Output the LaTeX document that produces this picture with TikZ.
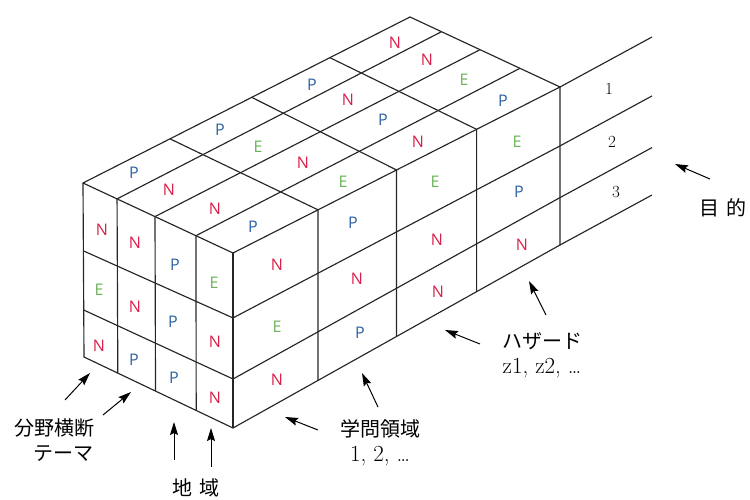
\documentclass[tikz,border=0pt]{standalone}
\usepackage{fontspec}
\usepackage{tikz}
\usetikzlibrary{calc,
                arrows.meta}
\newfontfamily\jafont{Noto Sans CJK JP}
\newfontfamily\cellfont{Open Sans}
\definecolor{cellred}{HTML}{D91E48}
\definecolor{cellblue}{HTML}{2D62A0}
\definecolor{cellgreen}{HTML}{6AB35A}
\newcommand{\jalabel}{\jafont\fontsize{20}{25}\selectfont}

\begin{document}
\begin{tikzpicture}[x=1pt,y=-1pt]

\tikzset{
gridline/.style={
draw=black!85,
line width=1.15pt,
line join=round
},
pointer/.style={
draw=black,
line width=1pt,
-{Stealth[length=13pt,width=8pt,inset=2pt]}
},
cellN/.style={text=cellred,font=\cellfont\fontsize{16}{16}\selectfont},
cellP/.style={text=cellblue,font=\cellfont\fontsize{16}{16}\selectfont},
cellE/.style={text=cellgreen,font=\cellfont\fontsize{16}{16}\selectfont},
rownum/.style={font=\fontsize{17}{17}\selectfont},
axislabel/.style={
align=center,
font=\fontsize{23}{25}\selectfont
}
}

\useasboundingbox (0,0) rectangle (750,500);

%--------------------------------------------------
% BOX CORNERS
%--------------------------------------------------

\coordinate (A) at (83,183);
\coordinate (B) at (233,253);
\coordinate (C) at (560,87);
\coordinate (D) at (410,17);
\coordinate (Ab) at (84,357);
\coordinate (Bb) at (233,428);
\coordinate (Cb) at (560,245);

%--------------------------------------------------
% GRID
%--------------------------------------------------

% outline and purpose lines
\draw[gridline] (A) -- (B) -- (C) -- (D) -- cycle;
\draw[gridline] (A) -- (Ab) -- (Bb) -- (Cb) -- (C);
\draw[gridline] (B) -- (Bb);
\draw[gridline] (C) -- ++(92,-50);
\draw[gridline] (Cb) -- ++(92,-50);

% rows round the two side faces
\foreach \fa/\fb/\fc in {0.39/0.371/0.373,0.73/0.72/0.70}
  \draw[gridline] ($(A)!\fa!(Ab)$) -- ($(B)!\fb!(Bb)$) -- ($(C)!\fc!(Cb)$) -- ++(92,-50);

% themes x regions
\foreach \f/\g in {0.227/0.21,0.48/0.467,0.753/0.733}{
  \draw[gridline] ($(Ab)!\f!(Bb)$) -- ($(A)!\f!(B)$) -- ($(D)!\g!(C)$);
}

% disciplines
\foreach \f/\g in {0.266/0.26,0.516/0.5,0.755/0.745}{
  \draw[gridline] ($(A)!\f!(D)$) -- ($(B)!\g!(C)$) -- ($(Bb)!\g!(Cb)$);
}

%--------------------------------------------------
% CELL LETTERS
%--------------------------------------------------

% top face
\foreach \x/\y/\t [count=\n] in {134/173/P,220/130/P,312/85/P,395/43/N,
                                 169/190/N,258/147/E,348/100/N,427/60/N,
                                 215/209/N,303/163/N,383/120/P,464/80/E,
                                 253/227/P,343/182/E,418/142/N,503/101/P}
  \node[cell\t] (top\n) at (\x,\y) {\t};

% front face
\foreach \x/\y/\t [count=\n] in {102/230/N,135/243/N,175/265/P,214/283/E,
                                 99/290/E,135/307/N,173/322/P,215/342/N,
                                 99/346/N,134/360/P,174/378/P,215/398/N}
  \node[cell\t] (front\n) at (\x,\y) {\t};

% side face
\foreach \x/\y/\t [count=\n] in {277/265/N,353/223/P,435/182/E,517/142/E,
                                 277/327/E,357/279/N,437/240/N,519/192/P,
                                 277/380/N,360/333/P,438/292/N,522/245/N}
  \node[cell\t] (side\n) at (\x,\y) {\t};

% purposes
\node[rownum] (num1) at (609,89) {1};
\node[rownum] (num2) at (612,142) {2};
\node[rownum] (num3) at (616,192) {3};

%--------------------------------------------------
% LABELS
%--------------------------------------------------

\node[axislabel] (mokuteki) at (723,208) {\jalabel 目\hspace{.35em}的};
\node[axislabel] (hazard) at (542,355) {{\jalabel ハザード}\\z1, z2, \ldots};
\node[axislabel] (gakumon) at (380,443) {{\jalabel 学問領域}\\1, 2, \ldots};
\node[axislabel] (chiiki) at (196,488) {\jalabel 地\hspace{.35em}域};
\node[axislabel,align=right] (bunya) at (54,440) {\jalabel 分野横断\\\jalabel テーマ};

%--------------------------------------------------
% POINTERS
%--------------------------------------------------

\coordinate (mk1) at (710,179);  \coordinate (mk1e) at (675,164);
\coordinate (hz1) at (480,344);  \coordinate (hz1e) at (445,330);
\coordinate (hz2) at (546,315);  \coordinate (hz2e) at (529,281);
\coordinate (gk1) at (318,430);  \coordinate (gk1e) at (285,417);
\coordinate (gk2) at (378,407);  \coordinate (gk2e) at (362,373);
\coordinate (ch1) at (174,460);  \coordinate (ch1e) at (174,422);
\coordinate (ch2) at (211,467);  \coordinate (ch2e) at (211,428);
\coordinate (bu1) at (65,400);   \coordinate (bu1e) at (90,373);
\coordinate (bu2) at (103,415);  \coordinate (bu2e) at (131,392);

\foreach \p in {mk1,hz1,hz2,gk1,gk2,ch1,ch2,bu1,bu2}
  \draw[pointer] (\p) -- (\p e);

\end{tikzpicture}
\end{document}
